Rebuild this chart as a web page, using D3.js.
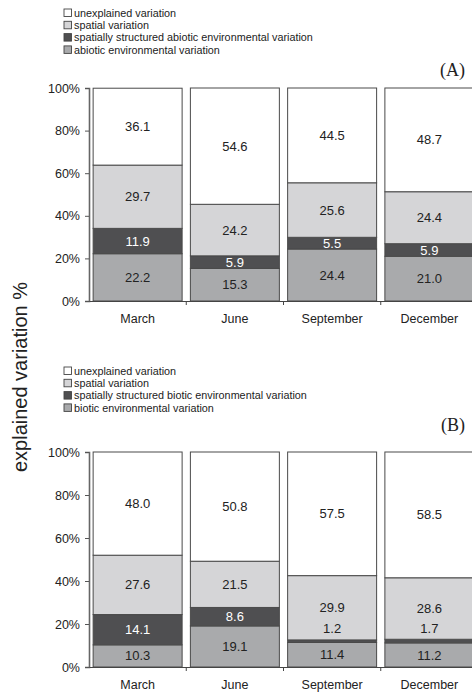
<!DOCTYPE html>
<html>
<head>
<meta charset="utf-8">
<script src="https://cdn.jsdelivr.net/npm/d3@7"></script>
<style>
  html, body { margin: 0; padding: 0; background: #fff; }
  svg { display: block; font-family: "Liberation Sans", Arial, sans-serif; }
</style>
</head>
<body>
<svg id="chart" width="472" height="695"></svg>
<script>
// Months sampled
const months = ["March", "June", "September", "December"];

// Variance partitioning, panel A (abiotic environment)
const abioticEnv = [22.2, 15.3, 24.4, 21.0];
const abioticShared = [11.9, 5.9, 5.5, 5.9];
const spatialA = [29.7, 24.2, 25.6, 24.4];
const unexplainedA = [36.1, 54.6, 44.5, 48.7];

// Variance partitioning, panel B (biotic environment)
const bioticEnv = [10.3, 19.1, 11.4, 11.2];
const bioticShared = [14.1, 8.6, 1.2, 1.7];
const spatialB = [27.6, 21.5, 29.9, 28.6];
const unexplainedB = [48.0, 50.8, 57.5, 58.5];

const yTicks = [0, 20, 40, 60, 80, 100];

const legendA = ["unexplained variation", "spatial variation",
  "spatially structured abiotic environmental variation", "abiotic environmental variation"];
const legendB = ["unexplained variation", "spatial variation",
  "spatially structured biotic environmental variation", "biotic environmental variation"];

// fills: environment, shared, spatial, unexplained
const fills = ["#a9aaac", "#4f4f51", "#d5d5d7", "#ffffff"];
const textFill = ["#222", "#fff", "#222", "#222"];

const svg = d3.select("#chart");

const x = d3.scaleBand().domain(months).range([89, 478])
  .paddingInner(0.085).paddingOuter(0.0425);

function panel(series, legend, tag, yTop, yBottom, legendY, tagY) {
  const y = d3.scaleLinear().domain([0, 100]).range([yBottom, yTop]);
  const g = svg.append("g");

  // legend
  const lg = g.append("g");
  const legendFills = [fills[3], fills[2], fills[1], fills[0]];
  legend.forEach((name, i) => {
    const row = lg.append("g").attr("transform", `translate(64,${legendY + i * 12.3})`);
    row.append("rect").attr("x", 0).attr("y", -4).attr("width", 7.5).attr("height", 7.5)
      .attr("fill", legendFills[i]).attr("stroke", "#444").attr("stroke-width", 0.9);
    row.append("text").attr("x", 10).attr("y", 0).attr("dy", "0.35em")
      .attr("font-size", 10.8).attr("fill", "#222").text(name);
  });

  g.append("text").attr("x", 465).attr("y", tagY).attr("text-anchor", "end")
    .attr("font-family", "'Liberation Serif', 'Times New Roman', serif")
    .attr("font-size", 18).attr("fill", "#222").text(tag);

  // stacked segments per month
  const segs = [];
  months.forEach((m, i) => {
    let base = 0;
    series.forEach((s, k) => {
      segs.push({ m, k, v: s[i], lo: base, hi: base + s[i] });
      base += s[i];
    });
  });

  g.append("g").selectAll("rect").data(segs).join("rect")
    .attr("x", d => x(d.m)).attr("width", x.bandwidth())
    .attr("y", d => y(d.hi)).attr("height", d => y(d.lo) - y(d.hi))
    .attr("fill", d => fills[d.k]).attr("stroke", "#4a4a4a").attr("stroke-width", 1);

  // value labels; thin segments get their label just above
  g.append("g").selectAll("text").data(segs).join("text")
    .attr("x", d => x(d.m) + x.bandwidth() / 2)
    .attr("y", d => d.v < 3 ? y(d.hi) - 11 : (y(d.lo) + y(d.hi)) / 2)
    .attr("dy", "0.35em")
    .attr("text-anchor", "middle")
    .attr("font-size", 13)
    .attr("fill", d => d.v < 3 ? "#222" : textFill[d.k])
    .text(d => d.v.toFixed(1));

  // y axis
  const ya = g.append("g").attr("transform", "translate(89,0)")
    .call(d3.axisLeft(y).tickValues(yTicks).tickFormat(d => d + "%").tickSizeOuter(0).tickSize(4).tickPadding(5));
  ya.select(".domain").attr("stroke", "#666").attr("stroke-width", 1.6);
  ya.selectAll(".tick line").attr("stroke", "#555");
  ya.selectAll(".tick text").attr("font-size", 12.5).attr("fill", "#222")
    .attr("font-family", "'Liberation Sans', Arial, sans-serif");

  // x axis baseline with ticks between months
  const xa = g.append("g").attr("transform", `translate(0,${yBottom})`)
    .call(d3.axisBottom(x).tickSize(0).tickPadding(13));
  xa.select(".domain").attr("stroke", "#444").attr("stroke-width", 1.2);
  xa.selectAll(".tick text").attr("font-size", 12.5).attr("fill", "#222")
    .attr("font-family", "'Liberation Sans', Arial, sans-serif");
  const gap = x.step() - x.bandwidth();
  g.selectAll(".sep").data(months.slice(0, -1)).join("line")
    .attr("x1", d => x(d) + x.bandwidth() + gap / 2)
    .attr("x2", d => x(d) + x.bandwidth() + gap / 2)
    .attr("y1", yBottom).attr("y2", yBottom + 4)
    .attr("stroke", "#444").attr("stroke-width", 1);
}

panel([abioticEnv, abioticShared, spatialA, unexplainedA], legendA, "(A)", 88, 301, 13, 76);
panel([bioticEnv, bioticShared, spatialB, unexplainedB], legendB, "(B)", 452, 667, 371, 431);

svg.append("text")
  .attr("transform", "translate(27,377) rotate(-90)")
  .attr("text-anchor", "middle")
  .attr("font-size", 20).attr("fill", "#222")
  .text("explained variation %");
</script>
</body>
</html>
